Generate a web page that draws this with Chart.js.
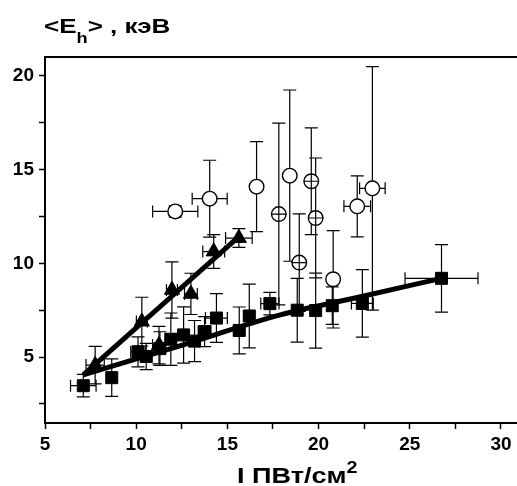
<!DOCTYPE html>
<html>
<head>
<meta charset="utf-8">
<script src="https://cdn.jsdelivr.net/npm/chart.js@4/dist/chart.umd.min.js"></script>
<style>
  html, body { margin: 0; padding: 0; background: #fff; overflow: hidden; }
  #wrap { position: relative; width: 517px; height: 486px; font-family: "Liberation Sans", Arial, sans-serif; font-weight: bold; color: #000; }
  #chart { display: block; position: absolute; left: 0; top: 0; width: 517px; height: 486px; }
  #ytitle { position: absolute; left: 44px; top: 16px; font-size: 20px; line-height: 20px; white-space: nowrap; transform: scaleX(1.3); transform-origin: left; }
  #xtitle { position: absolute; left: 237px; top: 465px; font-size: 22px; line-height: 22px; white-space: nowrap; transform: scaleX(1.23); transform-origin: left; }
  .sub { position: relative; top: 10px; font-size: 14px; }
  .sup { position: relative; top: -10px; font-size: 16px; }
</style>
</head>
<body>
<div id="wrap">
  <canvas id="chart" width="517" height="486"></canvas>
  <div id="ytitle">&lt;E<span class="sub">h</span>&gt; , кэВ</div>
  <div id="xtitle">I ПВт/см<span class="sup">2</span></div>
</div>
<script>
/* data */
const squareX    = [7.1, 8.66, 10.1, 10.55, 11.3, 11.9, 12.6, 13.2, 13.75, 14.4, 15.65, 16.2, 17.33, 18.83, 19.84, 20.75, 22.4, 26.74];
const squareY    = [3.47, 3.9, 5.28, 5.03, 5.45, 5.95, 6.18, 5.85, 6.36, 7.08, 6.42, 7.19, 7.85, 7.5, 7.48, 7.74, 7.86, 9.2];
const squareXErr = [0.7, 0.2, 0.4, 0.3, 0.3, 0.3, 0.3, 0.3, 0.35, 0.6, 0.3, 0.3, 0.5, 0.25, 0.25, 0.25, 0.6, 2.0];
const squareYErr = [0.6, 1.0, 0.8, 0.7, 0.9, 1.4, 1.5, 1.1, 0.8, 1.3, 1.25, 1.7, 0.6, 1.7, 2.0, 1.0, 1.8, 1.8];

const triX    = [7.75, 10.31, 11.25, 11.96, 13.0, 14.25, 15.63];
const triY    = [4.57, 6.89, 5.64, 8.58, 8.37, 10.63, 11.35];
const triXErr = [0.5, 0.3, 0.35, 0.3, 0.35, 0.6, 0.73];
const triYErr = [1.0, 1.3, 1.0, 1.5, 1.1, 0.9, 0.5];

const circleX    = [12.14, 14.03, 16.6, 17.82, 18.42, 18.94, 19.6, 19.84, 20.8, 22.12, 22.95];
const circleY    = [12.77, 13.45, 14.09, 12.63, 14.68, 10.04, 14.38, 12.42, 9.15, 13.04, 14.0];
const circleXErr = [1.24, 0.96, 0.23, 0.2, 0.2, 0.2, 0.2, 0.2, 0.2, 0.73, 0.7];
const circleYErr = [0.3, 2.05, 2.4, 4.85, 4.57, 2.6, 2.85, 3.2, 2.6, 1.63, 6.5];
const circleCrossed = [0, 0, 0, 1, 0, 1, 1, 1, 0, 0, 0];

const fitTriX = [7.1, 15.6];
const fitTriY = [4.05, 11.4];
const fitSqX  = [7.1, 12.4, 17.9, 22.0, 26.74];
const fitSqY  = [4.05, 5.6, 7.25, 8.15, 9.2];

const xMajor = [5, 10, 15, 20, 25, 30];
const xMinor = [7.5, 12.5, 17.5, 22.5, 27.5];
const yMajor = [5, 10, 15, 20];
const yMinor = [2.5, 7.5, 12.5, 17.5];

const pts = (xs, ys) => xs.map((v, i) => ({ x: v, y: ys[i] }));

const tickFont = { family: "'Liberation Sans', Arial, sans-serif", size: 19, weight: "bold" };

const errorBars = {
  id: "errorBars",
  beforeDatasetsDraw(chart) {
    const { ctx, scales: { x, y } } = chart;
    ctx.save();
    ctx.strokeStyle = "#000";
    ctx.lineWidth = 1.2;
    chart.data.datasets.forEach((ds) => {
      if (!ds.errX) return;
      ds.data.forEach((p, i) => {
        const px = x.getPixelForValue(p.x), py = y.getPixelForValue(p.y);
        const x0 = x.getPixelForValue(p.x - ds.errX[i]), x1 = x.getPixelForValue(p.x + ds.errX[i]);
        const y0 = y.getPixelForValue(p.y - ds.errY[i]), y1 = y.getPixelForValue(p.y + ds.errY[i]);
        ctx.beginPath();
        ctx.moveTo(x0, py); ctx.lineTo(x1, py);
        ctx.moveTo(x0, py - 6); ctx.lineTo(x0, py + 6);
        ctx.moveTo(x1, py - 6); ctx.lineTo(x1, py + 6);
        ctx.moveTo(px, y0); ctx.lineTo(px, y1);
        ctx.moveTo(px - 6.5, y0); ctx.lineTo(px + 6.5, y0);
        ctx.moveTo(px - 6.5, y1); ctx.lineTo(px + 6.5, y1);
        ctx.stroke();
      });
    });
    ctx.restore();
  },
  afterDraw(chart) {
    const { ctx, chartArea: { left, top } } = chart;
    // top frame line runs to the right edge
    ctx.save();
    ctx.strokeStyle = "#000";
    ctx.lineWidth = 2;
    ctx.beginPath();
    ctx.moveTo(left - 1, top);
    ctx.lineTo(chart.width, top);
    ctx.stroke();
    ctx.restore();
  },
};

Chart.register(errorBars);

new Chart(document.getElementById("chart"), {
  type: "scatter",
  data: {
    datasets: [
      {
        data: pts(circleX.filter((_, i) => circleCrossed[i]), circleY.filter((_, i) => circleCrossed[i])),
        pointStyle: "cross", pointRadius: 7.3, borderColor: "#000", borderWidth: 1.2,
        order: 0,
      },
      {
        data: pts(circleX, circleY), errX: circleXErr, errY: circleYErr,
        pointStyle: "circle", pointRadius: 7.3, backgroundColor: "#fff", borderColor: "#000", borderWidth: 1.4,
        order: 1,
      },
      {
        data: pts(triX, triY), errX: triXErr, errY: triYErr,
        pointStyle: "triangle", pointRadius: 8.7, backgroundColor: "#000", borderColor: "#000", borderWidth: 1,
        order: 2,
      },
      {
        data: pts(squareX, squareY), errX: squareXErr, errY: squareYErr,
        pointStyle: "rect", pointRadius: 8.5, backgroundColor: "#000", borderColor: "#000", borderWidth: 1,
        order: 3,
      },
      {
        data: pts(fitTriX, fitTriY), showLine: true, pointRadius: 0, borderColor: "#000", borderWidth: 5,
        order: 4,
      },
      {
        data: pts(fitSqX, fitSqY), showLine: true, pointRadius: 0, borderColor: "#000", borderWidth: 5,
        cubicInterpolationMode: "monotone",
        order: 4,
      },
    ],
  },
  options: {
    responsive: false,
    animation: false,
    layout: { autoPadding: false, padding: { top: 57, right: 0, left: 0, bottom: 0 } },
    plugins: { legend: { display: false }, tooltip: { enabled: false } },
    scales: {
      x: {
        type: "linear",
        min: 5,
        max: 30.88,
        afterBuildTicks: (s) => { s.ticks = [...xMajor, ...xMinor].sort((a, b) => a - b).map((v) => ({ value: v })); },
        afterFit: (s) => { s.height = 63; },
        grid: { drawOnChartArea: false, tickLength: 6, tickColor: "#000", tickWidth: 1.5 },
        border: { color: "#000", width: 2 },
        ticks: {
          autoSkip: false, maxRotation: 0, padding: 4, color: "#000", font: tickFont,
          callback: (v) => (xMajor.includes(v) ? String(v) : ""),
        },
      },
      y: {
        type: "linear",
        min: 1.48,
        max: 21.01,
        afterBuildTicks: (s) => { s.ticks = [...yMajor, ...yMinor].sort((a, b) => a - b).map((v) => ({ value: v })); },
        afterFit: (s) => { s.width = 45; },
        grid: { drawOnChartArea: false, tickLength: 6, tickColor: "#000", tickWidth: 1.5 },
        border: { color: "#000", width: 2 },
        ticks: {
          autoSkip: false, padding: 5, color: "#000", font: tickFont,
          callback: (v) => (yMajor.includes(v) ? String(v) : ""),
        },
      },
    },
  },
});
</script>
</body>
</html>
